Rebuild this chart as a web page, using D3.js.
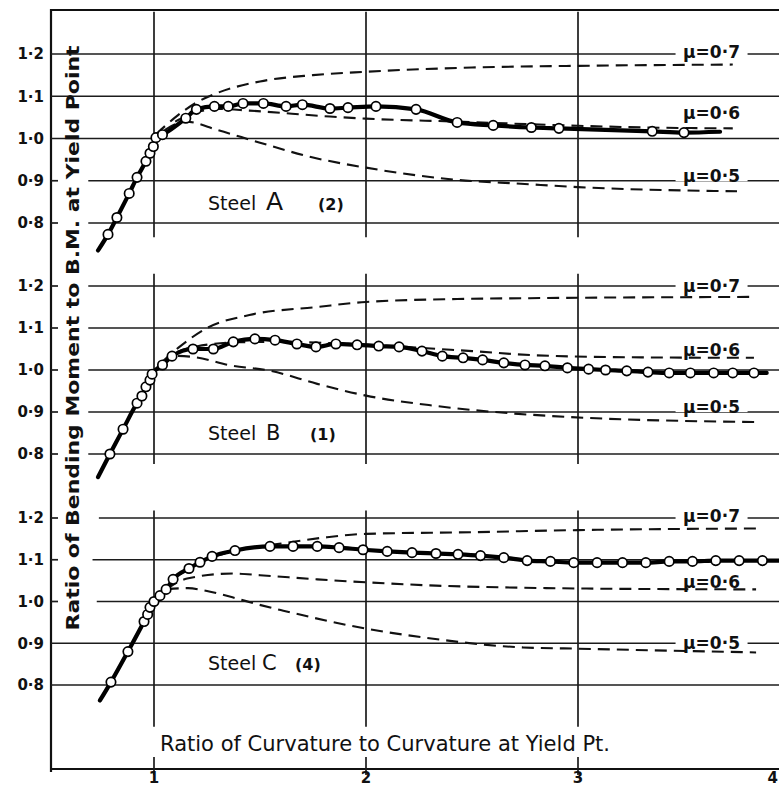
<!DOCTYPE html>
<html lang="en">
<head>
<meta charset="UTF-8">
<title>Ratio of Bending Moment to B.M. at Yield Point</title>
<script src="https://cdn.jsdelivr.net/npm/d3@7"></script>
<style>
  body{margin:0;background:#fff;}
  svg{display:block;background:#fff;}
  .grid{stroke:#1c1c1c;stroke-width:1.7px;fill:none;}
  .frame{stroke:#111;stroke-width:2.2px;fill:none;}
  .test{stroke:#000;stroke-width:4.2px;fill:none;stroke-linejoin:round;stroke-linecap:round;}
  .theory{stroke:#111;stroke-width:2.1px;fill:none;stroke-dasharray:12 7;}
  .pt{fill:#fff;stroke:#000;stroke-width:1.7px;}
  text{font-family:"DejaVu Sans",sans-serif;fill:#111;}
  .tick text{font-weight:bold;font-size:15px;}
  .mu{font-size:17px;font-weight:bold;}
  .steel{font-size:19px;}
</style>
</head>
<body>
<script>
// ---- data ----
const xTicks = [1, 2, 3, 4];
const yTicks = [0.8, 0.9, 1.0, 1.1, 1.2];
const yTickLabels = ["0·8", "0·9", "1·0", "1·1", "1·2"];
const muNames = ["μ=0·7", "μ=0·6", "μ=0·5"];
const steelLetters = ["A", "B", "C"];
const steelRefs = ["(2)", "(1)", "(4)"];

// test points (circles), [curvature ratio, moment ratio]
const steelA = [[0.783,0.773],[0.825,0.813],[0.883,0.870],[0.92,0.908],[0.962,0.946],[0.981,0.965],
  [0.997,0.981],[1.009,1.002],[1.04,1.009],[1.15,1.048],[1.20,1.069],[1.285,1.076],[1.35,1.076],
  [1.42,1.083],[1.516,1.083],[1.623,1.076],[1.70,1.080],[1.83,1.071],[1.915,1.073],[2.047,1.076],
  [2.236,1.069],[2.43,1.038],[2.60,1.031],[2.78,1.026],[2.91,1.024],[3.35,1.017],[3.50,1.014]];
const steelB = [[0.792,0.8],[0.854,0.859],[0.92,0.921],[0.943,0.938],[0.962,0.96],[0.981,0.976],
  [0.991,0.99],[1.04,1.012],[1.085,1.033],[1.184,1.05],[1.28,1.05],[1.374,1.067],[1.476,1.074],
  [1.571,1.071],[1.674,1.062],[1.764,1.055],[1.858,1.062],[1.958,1.06],[2.06,1.057],[2.156,1.055],
  [2.264,1.045],[2.36,1.033],[2.458,1.029],[2.55,1.024],[2.65,1.017],[2.75,1.012],[2.844,1.01],
  [2.95,1.005],[3.05,1.002],[3.13,1.0],[3.23,0.998],[3.33,0.995],[3.43,0.993],[3.53,0.993],
  [3.64,0.993],[3.73,0.993],[3.83,0.993]];
const steelC = [[0.797,0.807],[0.877,0.88],[0.953,0.952],[0.97,0.969],[0.981,0.986],[1.0,1.0],
  [1.028,1.014],[1.057,1.029],[1.09,1.053],[1.165,1.079],[1.217,1.094],[1.274,1.108],[1.382,1.122],
  [1.547,1.132],[1.656,1.132],[1.77,1.132],[1.873,1.129],[1.986,1.124],[2.10,1.12],[2.217,1.117],
  [2.33,1.115],[2.434,1.113],[2.54,1.11],[2.65,1.105],[2.76,1.098],[2.87,1.096],[2.98,1.093],
  [3.09,1.093],[3.21,1.093],[3.32,1.093],[3.43,1.096],[3.54,1.096],[3.65,1.098],[3.76,1.098],[3.87,1.098]];
// where the drawn test curve starts and stops beyond the circles
const steelAEnds = [[0.736,0.735],[3.67,1.016]];
const steelBEnds = [[0.736,0.745],[3.89,0.993]];
const steelCEnds = [[0.745,0.763],[3.95,1.098]];

// theoretical curves (dashed) for mu = 0.7, 0.6, 0.5
const aMu7 = [[1.01,1.01],[1.1,1.05],[1.2,1.085],[1.3,1.108],[1.5,1.135],[1.75,1.15],[2.0,1.158],[2.5,1.168],[3.0,1.172],[3.73,1.175]];
const aMu6 = [[1.1,1.04],[1.2,1.062],[1.3,1.07],[1.45,1.066],[1.83,1.052],[2.0,1.047],[2.43,1.04],[3.0,1.03],[3.33,1.026],[3.73,1.024]];
const aMu5 = [[1.05,1.02],[1.15,1.04],[1.3,1.02],[1.5,0.99],[1.75,0.955],[2.0,0.931],[2.43,0.902],[2.73,0.893],[3.0,0.885],[3.75,0.875]];
const bMu7 = [[1.04,1.02],[1.12,1.055],[1.25,1.1],[1.45,1.131],[1.77,1.15],[2.0,1.162],[2.43,1.169],[2.77,1.171],[3.81,1.174]];
const bMu6 = [[1.04,1.015],[1.1,1.04],[1.2,1.056],[1.4,1.066],[1.6,1.067],[2.0,1.06],[2.5,1.045],[2.8,1.035],[3.3,1.03],[3.83,1.029]];
const bMu5 = [[1.04,1.015],[1.08,1.034],[1.2,1.03],[1.35,1.012],[1.55,0.998],[1.77,0.967],[2.0,0.939],[2.32,0.915],[2.68,0.897],[2.96,0.888],[3.85,0.876]];
const cMu7 = [[1.0,1.0],[1.1,1.055],[1.2,1.09],[1.3,1.11],[1.45,1.128],[1.6,1.139],[1.8,1.153],[2.0,1.162],[2.5,1.166],[3.0,1.171],[3.86,1.175]];
const cMu6 = [[1.06,1.03],[1.156,1.055],[1.373,1.067],[1.5,1.063],[1.77,1.053],[2.0,1.046],[2.33,1.038],[2.74,1.033],[3.04,1.031],[3.84,1.029]];
const cMu5 = [[1.06,1.03],[1.16,1.032],[1.25,1.025],[1.37,1.01],[1.49,0.993],[1.61,0.978],[2.0,0.935],[2.27,0.914],[2.74,0.89],[3.0,0.887],[3.84,0.878]];

// ---- layout ----
const width = 779, height = 786;
const axisLeft = 51, frameTop = 10, axisBottom = 769;

// gridFrom follows yTicks order (0.8 .. 1.2); null = line runs from the axis
const panels = [
  {pts: steelA, ends: steelAEnds, mu: [aMu7, aMu6, aMu5], y: [223, 54], vert: [1.3, 0.766],
   gridFrom: [0.69, 0.69, null, null, null], muAt: [1.187, 1.043, 0.894],
   steelY: 0.83, letterX: 266, refX: 318, letterSize: 25},
  {pts: steelB, ends: steelBEnds, mu: [bMu7, bMu6, bMu5], y: [454, 286], vert: [1.229, 0.776],
   gridFrom: [0.69, 0.69, 0.69, 0.69, 0.69], muAt: [1.183, 1.031, 0.895],
   steelY: 0.833, letterX: 266, refX: 310, letterSize: 21},
  {pts: steelC, ends: steelCEnds, mu: [cMu7, cMu6, cMu5], y: [685, 518], vert: [1.218, 0.70],
   gridFrom: [null, null, 0.73, 0.71, 0.74], muAt: [1.187, 1.031, 0.883],
   steelY: 0.836, letterX: 262, refX: 295, letterSize: 21}
];

const x = d3.scaleLinear().domain([1, 3]).range([154, 578]);
const xMin = x.invert(axisLeft), xMax = x.invert(width);

const svg = d3.select("body").append("svg")
  .attr("width", width).attr("height", height)
  .attr("viewBox", `0 0 ${width} ${height}`);

// frame: top line, left axis, bottom axis
svg.append("path").attr("class", "frame")
  .attr("d", `M${width},${frameTop}H${axisLeft}V${axisBottom + 3}M${axisLeft},${axisBottom}H${width}`);

// bottom ticks (short stubs either side of the axis) + labels
const bottom = svg.append("g").attr("class", "tick");
bottom.selectAll("line").data(xTicks.filter(d => x(d) < width)).enter().append("line")
  .attr("class", "grid")
  .attr("x1", d => x(d)).attr("x2", d => x(d))
  .attr("y1", axisBottom - 12).attr("y2", axisBottom + 6);
bottom.selectAll("text").data(xTicks).enter().append("text")
  .attr("x", d => Math.min(x(d), width - 1))
  .attr("y", axisBottom + 14)
  .attr("font-size", 13)
  .attr("text-anchor", d => x(d) < width ? "middle" : "end")
  .text(d => d);

const lineGen = d3.line().x(d => x(d[0])).curve(d3.curveMonotoneX);

panels.forEach((p, i) => {
  const y = d3.scaleLinear().domain([0.8, 1.2]).range(p.y);
  lineGen.y(d => y(d[1]));
  const g = svg.append("g").attr("class", "panel");

  // horizontal grid
  yTicks.forEach((t, j) => {
    const from = p.gridFrom[j] == null ? xMin : p.gridFrom[j];
    g.append("line").attr("class", "grid")
      .attr("x1", x(from)).attr("x2", x(xMax))
      .attr("y1", y(t)).attr("y2", y(t));
    if (p.gridFrom[j] != null) {
      g.append("line").attr("class", "grid")
        .attr("x1", axisLeft).attr("x2", axisLeft + 7)
        .attr("y1", y(t)).attr("y2", y(t));
    }
  });
  // vertical grid
  g.selectAll("line.v").data([1, 2, 3]).enter().append("line")
    .attr("class", "grid v")
    .attr("x1", d => x(d)).attr("x2", d => x(d))
    .attr("y1", y(p.vert[0])).attr("y2", y(p.vert[1]));

  // y tick labels
  g.append("g").attr("class", "tick").selectAll("text").data(yTicks).enter().append("text")
    .attr("x", 44).attr("y", d => y(d)).attr("dy", "0.35em")
    .attr("text-anchor", "end")
    .text((d, j) => yTickLabels[j]);

  // white patch behind the mu labels to break the grid lines
  muNames.forEach((m, k) => {
    g.append("rect").attr("fill", "#fff")
      .attr("x", x(3.63) - 36).attr("y", y(p.muAt[k]) - 15)
      .attr("width", 72).attr("height", 13);
  });

  // theoretical dashed curves
  g.selectAll("path.theory").data(p.mu).enter().append("path")
    .attr("class", "theory").attr("d", d => lineGen(d));

  // test curve + circles
  const full = [p.ends[0], ...p.pts, p.ends[1]];
  g.append("path").attr("class", "test").attr("d", lineGen(full));
  g.selectAll("circle").data(p.pts).enter().append("circle")
    .attr("class", "pt")
    .attr("cx", d => x(d[0])).attr("cy", d => y(d[1])).attr("r", 4.7);

  muNames.forEach((m, k) => {
    g.append("text").attr("class", "mu")
      .attr("x", x(3.63)).attr("y", y(p.muAt[k]) - 1)
      .attr("text-anchor", "middle").text(m);
  });

  // steel label
  const st = g.append("text").attr("class", "steel").attr("y", y(p.steelY));
  st.append("tspan").attr("x", 208).text("Steel");
  st.append("tspan").attr("x", p.letterX).attr("font-size", p.letterSize).text(steelLetters[i]);
  st.append("tspan").attr("x", p.refX).attr("font-size", 16).attr("font-weight", "bold").text(steelRefs[i]);
});

// axis titles
svg.append("text")
  .attr("transform", "translate(79,338) rotate(-90)")
  .attr("text-anchor", "middle")
  .attr("font-size", 17).attr("font-weight", "bold")
  .attr("textLength", 585).attr("lengthAdjust", "spacingAndGlyphs")
  .text("Ratio of Bending Moment to B.M. at Yield Point");

svg.append("text")
  .attr("x", 385).attr("y", 751)
  .attr("text-anchor", "middle")
  .attr("font-size", 21)
  .attr("textLength", 450).attr("lengthAdjust", "spacingAndGlyphs")
  .text("Ratio of Curvature to Curvature at Yield Pt.");
</script>
</body>
</html>
